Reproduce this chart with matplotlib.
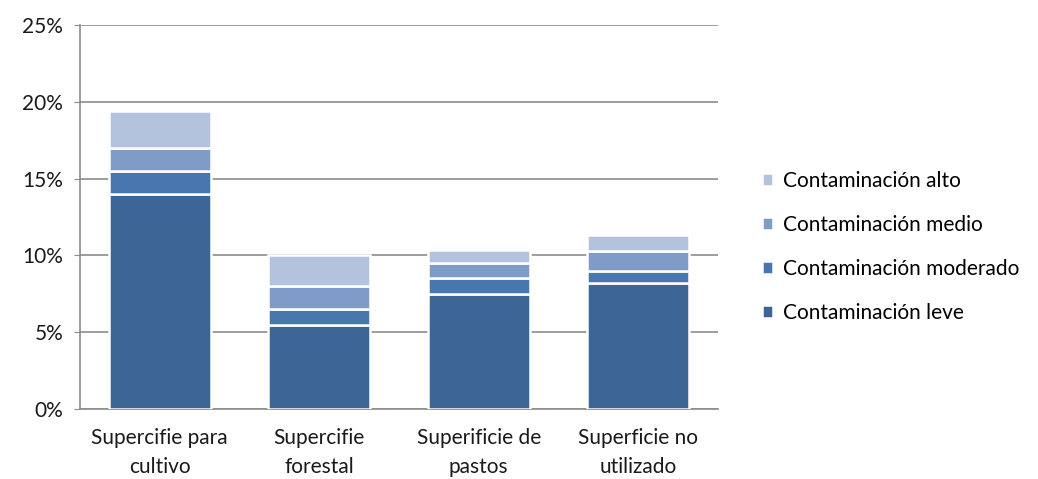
import matplotlib
matplotlib.use("Agg")
import matplotlib.pyplot as plt
import numpy as np
from matplotlib.ticker import FuncFormatter

categories = ["Supercifie para\ncultivo", "Supercifie\nforestal", "Superificie de\npastos", "Superficie no\nutilizado"]
series_names = ["Contaminación leve", "Contaminación moderado", "Contaminación medio", "Contaminación alto"]
leve = [14.0, 5.5, 7.5, 8.2]
moderado = [1.5, 1.0, 1.0, 0.8]
medio = [1.5, 1.5, 1.0, 1.3]
alto = [2.4, 2.0, 0.85, 1.05]
colors = ["#3D6596", "#4876AE", "#7F9BC7", "#B4C3DD"]

plt.rcParams['font.family'] = ['Lato', 'DejaVu Sans']
FS = 15

fig = plt.figure(figsize=(10.38, 4.79), dpi=100)
ax = fig.add_axes([80/1038, 1-409/479, (718-80)/1038, (409-25)/479])

x = np.arange(len(categories))
bottom = np.zeros(len(categories))
handles = []
for name, vals, c in zip(series_names, [leve, moderado, medio, alto], colors):
    b = ax.bar(x, vals, bottom=bottom, width=0.64, color=c, edgecolor="white",
               linewidth=1.8, label=name, zorder=3)
    handles.append(b)
    bottom += np.array(vals)

ax.set_xlim(-0.5, len(categories) - 0.5)
ax.set_ylim(0, 25)
ax.set_yticks(np.arange(0, 26, 5))
ax.yaxis.set_major_formatter(FuncFormatter(lambda v, p: f"{int(v)}%"))
ax.set_xticks(x)
ax.set_xticklabels(categories, fontsize=FS, color="#1a1a1a", linespacing=1.55)
ax.tick_params(axis='y', labelsize=FS, colors="#1a1a1a", length=4, color="#8c8c8c", pad=8)
ax.tick_params(axis='x', length=0, pad=14)
ax.grid(axis='y', color="#8c8c8c", linewidth=1.2, zorder=0)
for s in ["top", "right"]:
    ax.spines[s].set_visible(False)
for s in ["left", "bottom"]:
    ax.spines[s].set_color("#8c8c8c")
    ax.spines[s].set_linewidth(1.2)

leg = fig.legend(handles[::-1], series_names[::-1], loc="center left",
                 bbox_to_anchor=(743/1038, 1-247/479), frameon=False,
                 fontsize=FS, handlelength=0.55, handleheight=0.55,
                 handletextpad=0.45, labelspacing=1.15)

fig.savefig("out.png", dpi=100)
